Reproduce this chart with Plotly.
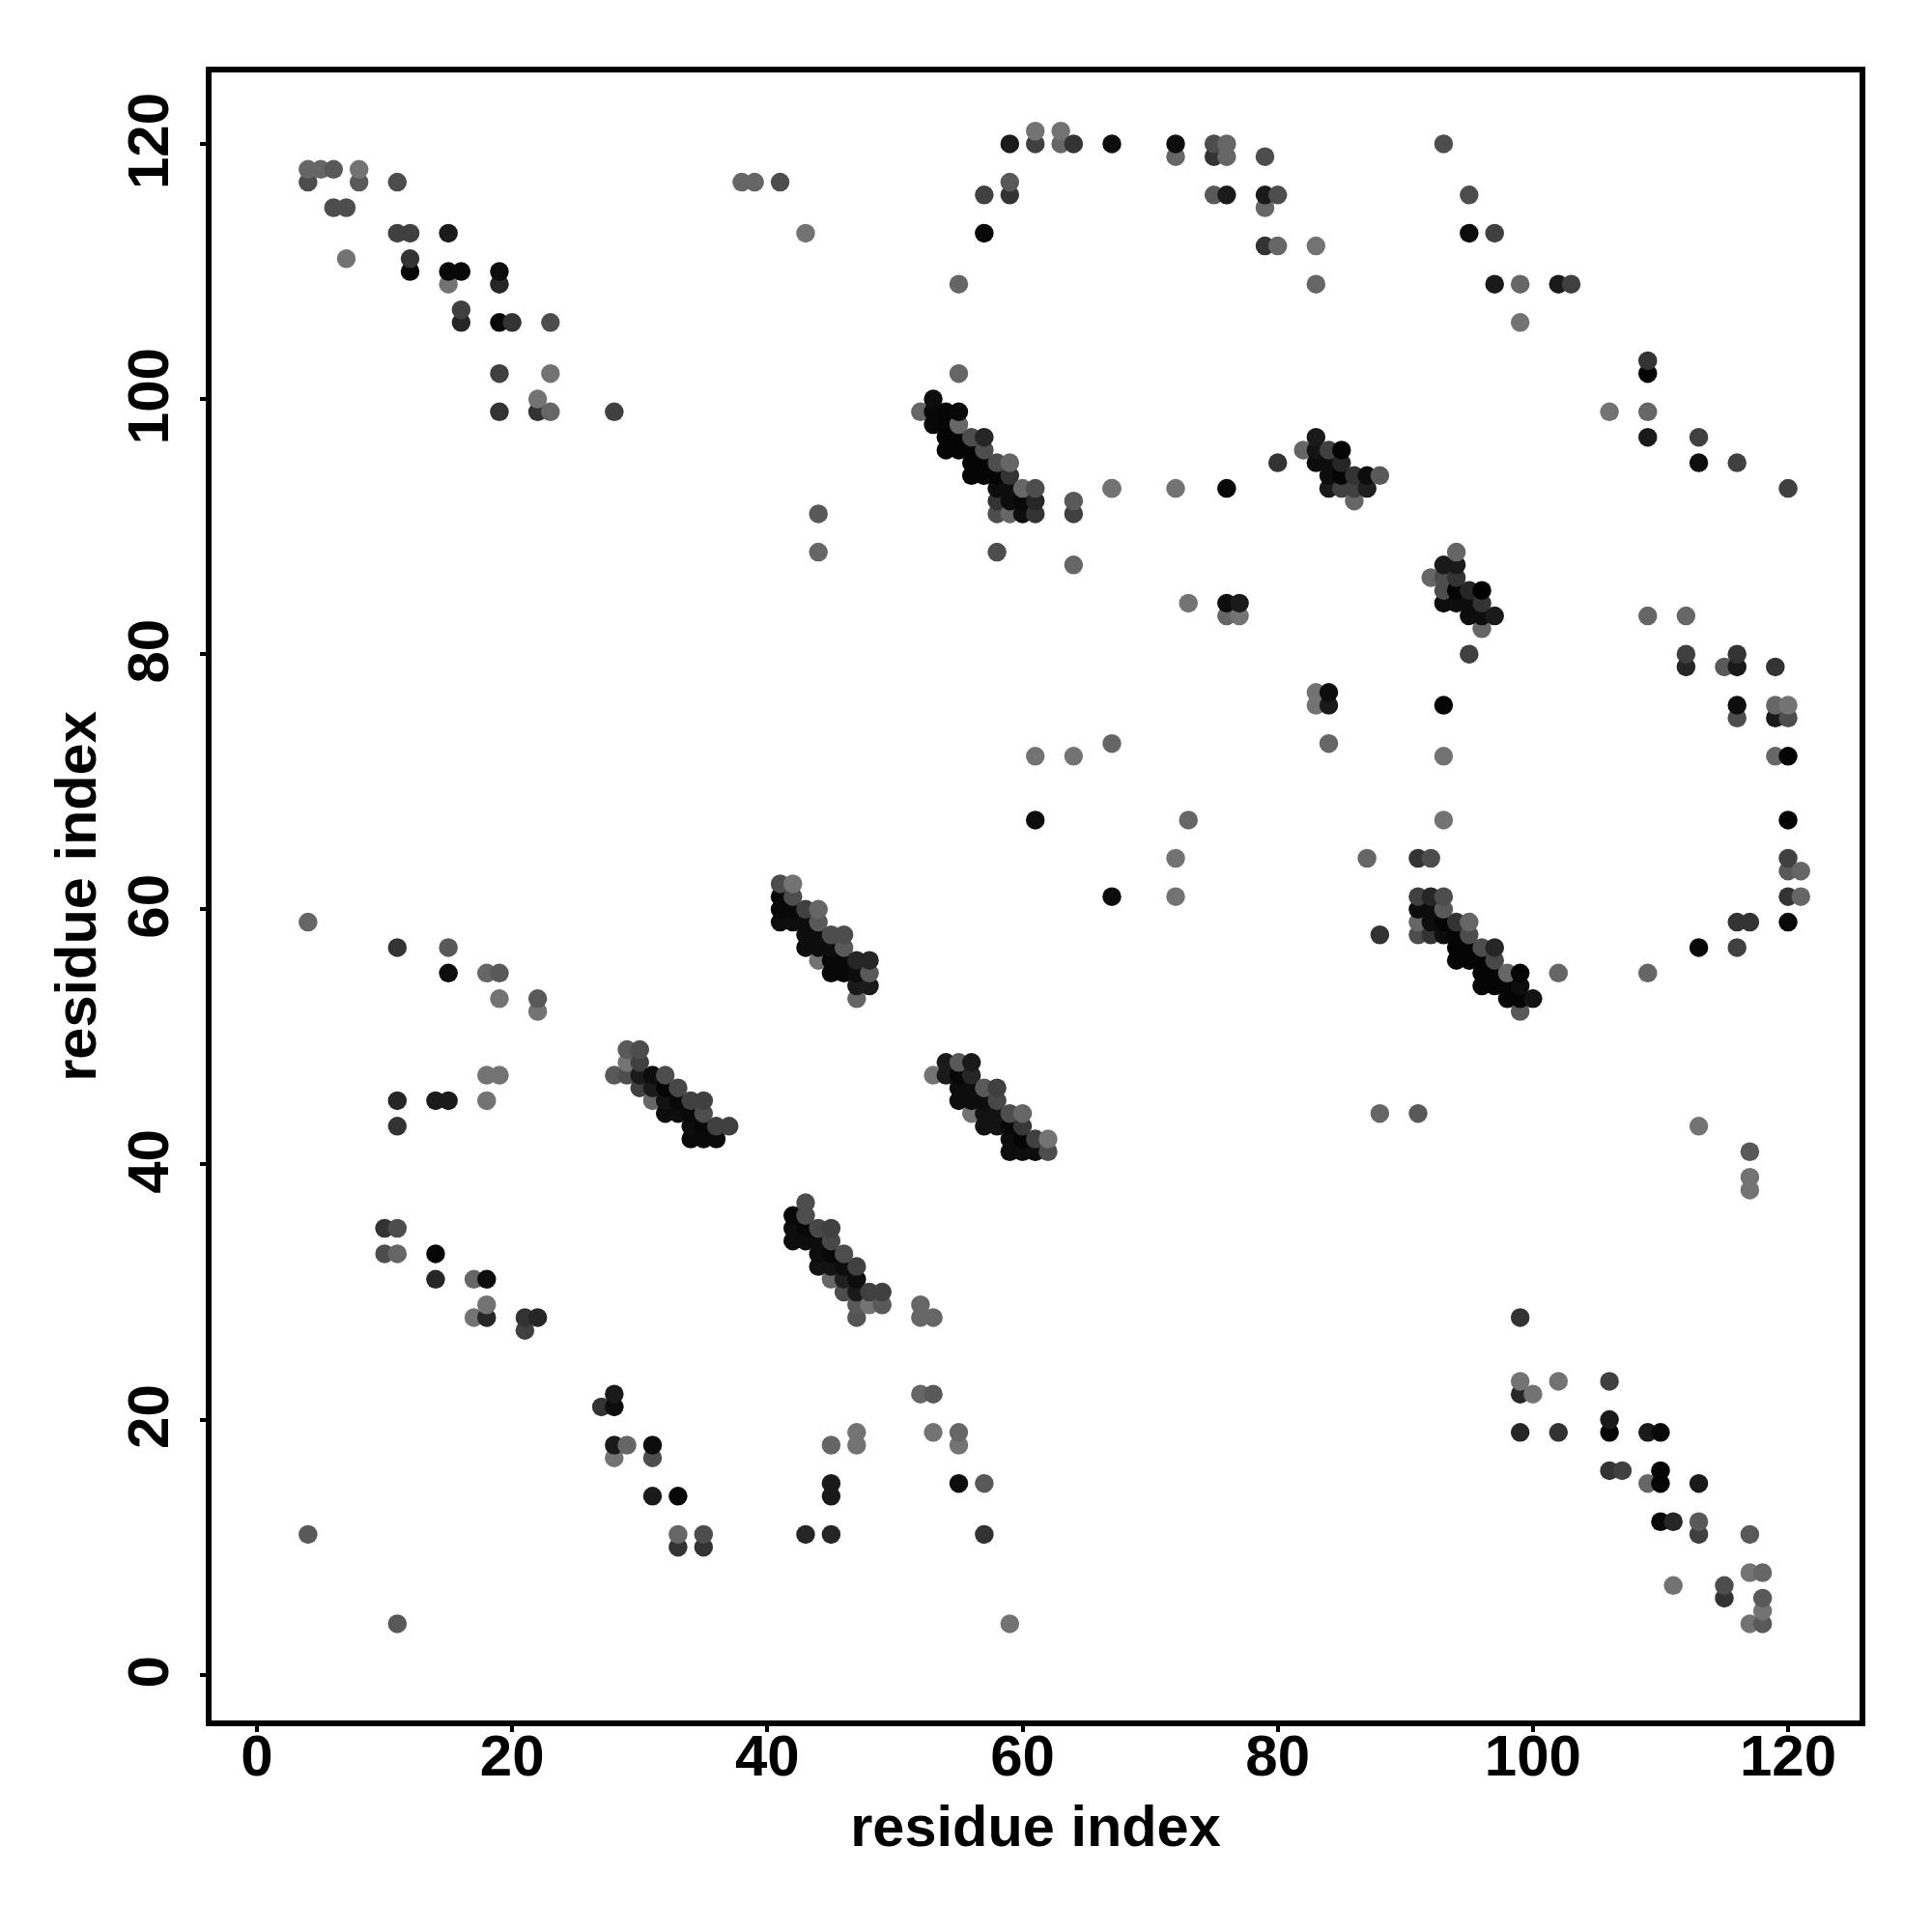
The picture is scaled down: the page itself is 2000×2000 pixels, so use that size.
import plotly.graph_objects as go

tick_values = [0, 20, 40, 60, 80, 100, 120]
axis_title = "residue index"

# Contact rows: residue index on x, residue index on y, grey level of the dot (0 black .. 1 white)
x_sparse = [4,5,6,8,4,8,6,7,11,11,12,7,15,12,12,15,16,19,15,19,16,16,19,20,23,19,23,22,22,23,19,28,
            38,39,41,43,44,44,55,57,57,59,59,59,61,61,63,63,64,67,72,72,75,76,75,76,75,76,79,79,80,79,79,80,83,83,
            93,95,95,97,97,99,99,102,103,109,109,106,109,109,113,113,116,120,
            67,72,76,80,55,64,64,58,64,67,
            73,76,77,76,77,109,112,112,112,115,116,116,119,95,
            83,83,84,84,84,93,93,116,116,119,120,119,120,119,120,
            61,64,67,61,73,93,120,87,91,92,72,120,120,121,72,67,120,121,116,117,120,113,116,88,109,102,
            4,11,15,15,18,19,19,22,22,18,19,18,11,14,15,11,
            88,91,113,117,117,117,
            10,11,10,11,14,14,17,18,18,17,18,21,22,21,
            52,52,53,52,53,53,55,55,47,45,47,
            27,28,28,28,29,28,31,31,31,33,33,35,33,35,43,45,45,45,55,57,57,4,11,59,
            99,99,102,106,99,100,99,102,106,106,109,110,106,107,110,110,109,113,110,111,113,113,117,111,115,115,117,118,118,118,117,118]
y_sparse = [118,118,118,118,117,117,115,115,117,113,113,111,113,111,110,110,110,110,109,109,107,106,106,106,106,102,102,100,99,99,99,99,
            117,117,117,113,91,88,109,113,116,116,117,120,120,121,121,120,120,120,120,119,120,120,119,119,116,116,119,116,116,115,112,112,112,109,
            120,116,113,113,109,109,106,109,109,103,102,99,99,97,97,95,95,93,
            93,93,93,95,102,92,91,88,87,93,
            84,84,84,83,83,83,83,80,79,79,80,79,79,80,
            77,76,77,76,73,76,72,76,75,76,76,75,75,72,72,
            72,72,73,67,67,67,67,64,64,64,64,64,63,63,61,61,61,61,59,59,59,57,57,58,55,55,
            59,57,57,55,55,55,53,53,52,47,47,45,45,45,45,43,
            44,44,43,41,39,38,
            35,35,33,33,33,31,31,31,29,28,28,28,28,27,
            29,28,28,22,22,19,19,18,19,18,18,
            21,21,22,18,18,17,18,17,14,14,11,11,10,10,11,15,14,11,15,15,11,11,4,4,
            28,23,23,23,22,22,19,19,20,19,19,19,16,16,16,15,15,15,12,12,12,11,11,7,7,6,8,8,6,5,4,4]
grey_sparse = [.40,.40,.35,.45,.30,.35,.30,.30,.30,.25,.25,.45,.10,.20,.03,.03,.03,.05,.45,.15,.25,.15,.03,.20,.30,.25,.45,.45,.20,.40,.20,.25,
               .40,.40,.30,.45,.35,.40,.40,.03,.25,.20,.35,.10,.25,.45,.45,.40,.20,.05,.05,.40,.30,.40,.20,.40,.35,.10,.30,.10,.30,.40,.20,.40,.45,.40,
               .30,.30,.05,.25,.10,.40,.45,.10,.25,.20,.02,.45,.40,.10,.25,.05,.25,.25,
               .45,.45,.03,.20,.40,.35,.25,.30,.40,.45,
               .45,.05,.10,.40,.45,.40,.40,.25,.15,.35,.20,.10,.20,.25,
               .45,.45,.05,.10,.40,.02,.45,.05,.30,.40,.45,.10,.30,.40,.02,
               .45,.45,.40,.05,.40,.45,.02,.40,.20,.30,.45,.25,.35,.40,.45,.05,.20,.40,.20,.20,.03,.03,.25,.20,.40,.40,
               .40,.20,.35,.05,.40,.35,.45,.35,.45,.45,.45,.45,.15,.10,.10,.20,
               .40,.35,.45,.35,.45,.45,
               .20,.30,.30,.40,.02,.15,.40,.05,.45,.45,.15,.20,.15,.25,
               .40,.40,.40,.40,.35,.45,.40,.45,.45,.40,.45,
               .20,.05,.10,.10,.40,.45,.05,.30,.10,.03,.40,.30,.20,.20,.15,.10,.10,.15,.05,.35,.20,.35,.35,.45,
               .20,.45,.45,.25,.15,.45,.15,.20,.10,.02,.10,.03,.20,.25,.02,.02,.40,.10,.03,.15,.35,.25,.35,.45,.30,.20,.45,.40,.35,.45,.45,.35]

x_cluster_a = [53,52,53,54,55,53,54,55,54,55,56,57,54,55,56,57,56,57,58,59,56,57,58,59,58,59,60,61,58,59,60,61,58,59,60,61]
y_cluster_a = [100,99,99,99,99,98,98,98,97,97,97,97,96,96,96,96,95,95,95,95,94,94,94,94,93,93,93,93,92,92,92,92,91,91,91,91]
grey_cluster_a = [.05,.40,.03,.02,.03,.03,.02,.40,.02,.02,.30,.15,.02,.02,.02,.30,.02,.02,.30,.40,.02,.02,.02,.20,.05,.05,.40,.30,.20,.05,.03,.15,.30,.40,.05,.20]

x_cluster_b = [83,82,83,84,85,83,84,85,84,85,86,87,88,84,85,86,87,86]
y_cluster_b = [97,96,96,96,96,95,95,95,94,94,94,94,94,93,93,93,93,92]
grey_cluster_b = [.10,.40,.08,.25,.02,.05,.05,.15,.05,.02,.20,.05,.35,.10,.25,.25,.12,.40]

x_cluster_c = [94,93,94,92,93,94,93,94,95,96,93,94,95,96,95,96,97,96]
y_cluster_c = [88,87,87,86,86,86,85,85,85,85,84,84,84,84,83,83,83,82]
grey_cluster_c = [.40,.10,.10,.40,.30,.20,.30,.02,.15,.00,.05,.05,.05,.20,.05,.05,.10,.40]

x_cluster_d = [91,92,93,91,92,93,91,92,93,94,95,91,92,93,94,95,94,95,96,97,94,95,96,97,96,97,98,99,96,97,98,99,98,99,100,99]
y_cluster_d = [61,61,61,60,60,60,59,59,59,59,59,58,58,58,58,58,57,57,57,57,56,56,56,56,55,55,55,55,54,54,54,54,53,53,53,52]
grey_cluster_d = [.25,.15,.30,.05,.05,.35,.40,.05,.02,.20,.40,.30,.20,.05,.02,.30,.02,.02,.30,.15,.02,.02,.02,.28,.02,.02,.40,.02,.02,.02,.02,.05,.02,.02,.07,.35]

x_cluster_e = [41,42,41,42,41,42,43,44,41,42,43,44,43,44,45,46,43,44,45,46,44,45,46,47,48,45,46,47,48,47,48,47]
y_cluster_e = [62,62,61,61,60,60,60,60,59,59,59,59,58,58,58,58,57,57,57,57,56,56,56,56,56,55,55,55,55,54,54,53]
grey_cluster_e = [.30,.45,.03,.30,.03,.03,.25,.40,.05,.05,.05,.35,.05,.05,.30,.30,.05,.05,.05,.35,.45,.03,.03,.15,.15,.03,.03,.05,.35,.10,.10,.40]

x_cluster_f = [29,30,29,30,28,29,30,31,32,30,31,32,33,31,32,33,34,35,32,33,34,35,34,35,36,37,34,35,36]
y_cluster_f = [49,49,48,48,47,47,47,47,47,46,46,46,46,45,45,45,45,45,44,44,44,44,43,43,43,43,42,42,42]
grey_cluster_f = [.35,.30,.45,.25,.35,.30,.10,.05,.30,.25,.10,.02,.28,.40,.07,.03,.25,.25,.05,.05,.03,.30,.05,.03,.25,.25,.04,.04,.04]

x_cluster_g = [54,55,56,53,54,55,56,55,56,57,58,55,56,57,58,56,57,58,59,60,57,58,59,60,59,60,61,62,59,60,61,62]
y_cluster_g = [48,48,48,47,47,47,47,46,46,46,46,45,45,45,45,44,44,44,44,44,43,43,43,43,42,42,42,42,41,41,41,41]
grey_cluster_g = [.10,.35,.10,.45,.10,.03,.15,.05,.05,.35,.25,.05,.05,.05,.28,.45,.07,.07,.30,.40,.07,.07,.03,.22,.05,.02,.25,.45,.05,.05,.05,.30]

x_cluster_h = [43,42,43,42,43,44,45,42,43,44,45,44,45,46,44,45,46,47,45,46,47,46,47,48,49,47,48,49,47]
y_cluster_h = [37,36,36,35,35,35,35,34,34,34,34,33,33,33,32,32,32,32,31,31,31,30,30,30,30,29,29,29,28]
grey_cluster_h = [.30,.03,.30,.05,.03,.28,.25,.05,.05,.05,.28,.05,.03,.30,.07,.07,.05,.25,.40,.12,.05,.30,.10,.25,.25,.35,.45,.35,.33]

xs = x_sparse + x_cluster_a + x_cluster_b + x_cluster_c + x_cluster_d + x_cluster_e + x_cluster_f + x_cluster_g + x_cluster_h
ys = y_sparse + y_cluster_a + y_cluster_b + y_cluster_c + y_cluster_d + y_cluster_e + y_cluster_f + y_cluster_g + y_cluster_h
greys = grey_sparse + grey_cluster_a + grey_cluster_b + grey_cluster_c + grey_cluster_d + grey_cluster_e + grey_cluster_f + grey_cluster_g + grey_cluster_h
assert len(xs) == len(ys) == len(greys)

# Dots are painted in order of x, then y, so later dots cover earlier ones
order = sorted(range(len(xs)), key=lambda i: (xs[i], ys[i]))

FONT = "Liberation Sans"
fig = go.Figure(go.Scatter(
    x=[xs[i] for i in order],
    y=[ys[i] for i in order],
    mode="markers",
    marker=dict(size=19.5, line=dict(width=0),
                color=[greys[i] for i in order],
                colorscale=[[0, "black"], [1, "white"]], cmin=0, cmax=1, showscale=False),
    hoverinfo="skip",
))

axis_style = dict(
    tickvals=tick_values, ticks="outside", ticklen=6, tickwidth=3.5, tickcolor="black",
    showline=True, linewidth=5.5, linecolor="black", mirror=True,
    showgrid=False, zeroline=False, autorange=False,
    tickfont=dict(family=FONT, size=60, color="black", weight="bold"),
)
title_font = dict(family=FONT, size=59.5, color="black", weight="bold")
fig.update_xaxes(range=[-3.56, 125.6], ticklabelstandoff=-27,
                 title=dict(text=axis_title, standoff=22, font=title_font), **axis_style)
fig.update_yaxes(range=[-3.58, 125.6], tickangle=-90, ticklabelstandoff=9, ticklabelshift=6,
                 title=dict(text=axis_title, standoff=3, font=title_font), **axis_style)
fig.update_layout(
    width=2000, height=2000, showlegend=False,
    paper_bgcolor="white", plot_bgcolor="white",
    margin=dict(l=211, r=82.75, t=66.5, b=227, autoexpand=False),
)
fig.write_html("out.html")
